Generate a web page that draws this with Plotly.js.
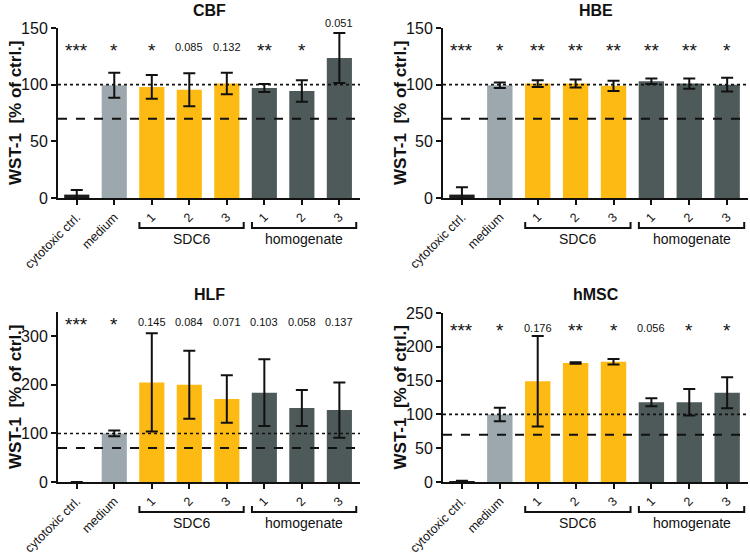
<!DOCTYPE html>
<html><head><meta charset="utf-8">
<script src="https://cdn.plot.ly/plotly-3.0.1.min.js"></script>
<style>body{margin:0;background:#fff}#chart{width:750px;height:556px}</style>
</head><body><div id="chart"></div>
<script>
// ---- data ----
const tickLabels = ["cytotoxic ctrl.", "medium", "1", "2", "3", "1", "2", "3"];
const groups = ["cytotoxic", "medium", "SDC6", "SDC6", "SDC6", "homogenate", "homogenate", "homogenate"];
const bracketGroups = ["SDC6", "homogenate"];
const panelNames = ["CBF", "HBE", "HLF", "hMSC"];
const yTitle = "WST-1\u00a0\u00a0[% of ctrl.]";

const cbfMean = [3, 99.5, 98, 95.5, 101, 97, 94.5, 123.5];
const cbfErr  = [4, 11, 10.5, 14.5, 9.5, 3.5, 9.5, 22];
const cbfSig  = ["***", "*", "*", "0.085", "0.132", "**", "*", "0.051"];

const hbeMean = [3, 99.5, 101, 101, 99, 103, 101, 100];
const hbeErr  = [6.5, 2.5, 3, 3.5, 4.5, 2.5, 4.5, 6];
const hbeSig  = ["***", "*", "**", "**", "**", "**", "**", "*"];

const hlfMean = [0, 100, 205, 200, 171, 184, 152.5, 148];
const hlfErr  = [0, 6, 101, 70, 49, 68.5, 37, 57];
const hlfSig  = ["***", "*", "0.145", "0.084", "0.071", "0.103", "0.058", "0.137"];

const hmscMean = [1.5, 100, 149, 176, 178, 118, 118, 132];
const hmscErr  = [0.5, 10, 67, 1, 4, 6, 19.5, 23];
const hmscSig  = ["***", "*", "0.176", "**", "*", "0.056", "*", "*"];

const viabilityRef = 100;   // dotted line
const toxicityLimit = 70;   // dashed line

// ---- styles / layout ----
const W = 750, H = 556;
const groupColors = {cytotoxic: "#1c1c1c", medium: "#9ca8ad", SDC6: "#fdba12", homogenate: "#4e5959"};
const font = "Liberation Sans, Arial, sans-serif";
const xRange = [-0.5, 7.55];
const panels = [
  {mean: cbfMean, err: cbfErr, sig: cbfSig, yr: [0, 150], dt: 50, sigLevel: 133, xd: [58, 360], yd: [28, 198], titleY: 10},
  {mean: hbeMean, err: hbeErr, sig: hbeSig, yr: [0, 150], dt: 50, sigLevel: 133, xd: [443, 748], yd: [28, 198], titleY: 10},
  {mean: hlfMean, err: hlfErr, sig: hlfSig, yr: [0, 350], dt: 100, sigLevel: 330, xd: [58, 360], yd: [312, 482], titleY: 294},
  {mean: hmscMean, err: hmscErr, sig: hmscSig, yr: [0, 250], dt: 50, sigLevel: 228, xd: [443, 748], yd: [313, 482], titleY: 294}
];

const idx = tickLabels.map((_, i) => i);
const traces = [];
const layout = {
  width: W, height: H, margin: {l: 0, r: 0, t: 0, b: 0},
  paper_bgcolor: "#fff", plot_bgcolor: "#fff", showlegend: false,
  font: {family: font, color: "#111"},
  annotations: [], shapes: []
};

panels.forEach((p, k) => {
  const n = k === 0 ? "" : String(k + 1);
  const xa = "x" + n, ya = "y" + n;
  const xDom = [p.xd[0] / W, p.xd[1] / W];
  const yDom = [1 - p.yd[1] / H, 1 - p.yd[0] / H];
  const yToPaper = v => yDom[0] + (v - p.yr[0]) / (p.yr[1] - p.yr[0]) * (yDom[1] - yDom[0]);
  traces.push({
    type: "bar", x: idx, y: p.mean, xaxis: xa, yaxis: ya, width: 0.67,
    marker: {color: groups.map(g => groupColors[g]), line: {width: 0}},
    error_y: {type: "data", array: p.err, visible: true, color: "#111", thickness: 2, width: 6},
    hoverinfo: "none"
  });
  const ticks = [];
  for (let v = p.yr[0]; v <= p.yr[1]; v += p.dt) ticks.push(v);
  layout["xaxis" + n] = {
    domain: xDom, anchor: ya, range: xRange, tickmode: "array", tickvals: idx, ticktext: tickLabels,
    tickangle: -45, ticks: "outside", ticklen: 5, tickwidth: 2, tickcolor: "#111",
    showline: true, linewidth: 2, linecolor: "#111", showgrid: false, zeroline: false,
    tickfont: {size: 12.5, family: font, color: "#111"}, fixedrange: true
  };
  layout["yaxis" + n] = {
    domain: yDom, anchor: xa, range: p.yr, tickmode: "array", tickvals: ticks,
    ticks: "outside", ticklen: 5, tickwidth: 2, tickcolor: "#111",
    showline: true, linewidth: 2, linecolor: "#111", showgrid: false, zeroline: false,
    tickfont: {size: 16, family: font, color: "#111"}, fixedrange: true
  };
  // y-axis title
  layout.annotations.push({
    text: "<b>" + yTitle + "</b>", xref: "paper", yref: "paper", textangle: -90,
    x: (p.xd[0] - 43) / W, y: (yDom[0] + yDom[1]) / 2, xanchor: "center", yanchor: "middle",
    showarrow: false, font: {size: 17, family: font, color: "#111"}
  });
  // panel title
  layout.annotations.push({
    text: "<b>" + panelNames[k] + "</b>", xref: "paper", yref: "paper",
    x: (xDom[0] + xDom[1]) / 2, y: 1 - p.titleY / H, xanchor: "center", yanchor: "middle",
    showarrow: false, font: {size: 16, family: font, color: "#111"}
  });
  // reference lines
  [[viabilityRef, "dot", 1.6], [toxicityLimit, "dash", 2]].forEach(([v, d, w]) => {
    layout.shapes.push({type: "line", xref: xa, yref: ya, x0: xRange[0], x1: xRange[1], y0: v, y1: v,
      line: {color: "#111", width: w, dash: d}, layer: "above"});
  });
  // significance labels
  const pad = 0.06 * (p.yr[1] - p.yr[0]);
  p.sig.forEach((s, i) => {
    const top = p.mean[i] + p.err[i];
    const y = top >= p.sigLevel ? top + pad : p.sigLevel;
    const star = /^\*+$/.test(s);
    layout.annotations.push({
      text: s, xref: xa, yref: "paper", x: i, y: yToPaper(y), xanchor: "center", yanchor: "middle",
      showarrow: false, yshift: star ? -3 : 0,
      font: {size: star ? 19 : 11, family: font, color: "#111"}
    });
  });
  // group brackets under the axis
  const toPx = v => xDom[0] + (v - xRange[0]) / (xRange[1] - xRange[0]) * (xDom[1] - xDom[0]);
  const yb = yDom[0] - 30 / H, ye = yDom[0] - 24 / H;
  bracketGroups.forEach(g => {
    const ids = idx.filter(i => groups[i] === g);
    const x0 = toPx(ids[0] - 0.33), x1 = toPx(ids[ids.length - 1] + 0.45);
    layout.shapes.push({type: "path", xref: "paper", yref: "paper",
      path: `M ${x0},${ye} L ${x0},${yb} L ${x1},${yb} L ${x1},${ye}`,
      line: {color: "#111", width: 2}});
    layout.annotations.push({
      text: g, xref: "paper", yref: "paper", x: (x0 + x1) / 2, y: yDom[0] - 41 / H,
      xanchor: "center", yanchor: "middle", showarrow: false,
      font: {size: 14, family: font, color: "#111"}
    });
  });
});

Plotly.newPlot("chart", traces, layout, {staticPlot: true});
</script>
</body></html>
